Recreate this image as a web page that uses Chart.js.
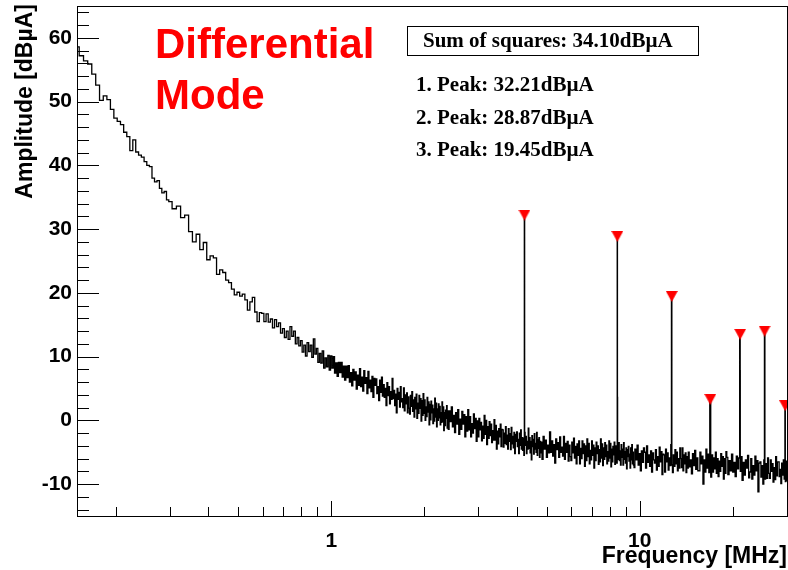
<!DOCTYPE html>
<html>
<head>
<meta charset="utf-8">
<script src="https://cdn.jsdelivr.net/npm/chart.js@4.4.1/dist/chart.umd.min.js"></script>
<style>
  html, body { margin: 0; padding: 0; background: #fff; }
  canvas { display: block; }
</style>
</head>
<body>
<canvas id="spectrumChart" width="788" height="570"></canvas>
<script>
// spectrum, frequency in MHz, amplitude in dBuA
const freqMHz = [
  0.150,0.155,0.160,0.165,0.170,0.175,0.180,0.185,0.190,0.195,
  0.200,0.205,0.210,0.215,0.220,0.225,0.230,0.235,0.240,0.245,
  0.250,0.255,0.260,0.265,0.270,0.275,0.280,0.285,0.290,0.295,
  0.30,0.31,0.32,0.33,0.34,0.35,0.36,0.37,0.38,0.39,
  0.40,0.41,0.42,0.43,0.44,0.45,0.46,0.47,0.48,0.49,
  0.50,0.51,0.52,0.53,0.54,0.55,0.56,0.57,0.58,0.59,
  0.60,0.61,0.62,0.63,0.64,0.65,0.66,0.67,0.68,0.69,
  0.70,0.71,0.72,0.73,0.74,0.75,0.76,0.77,0.78,0.79,
  0.80,0.81,0.82,0.83,0.84,0.85,0.86,0.87,0.88,0.89,
  0.90,0.91,0.92,0.93,0.94,0.95,0.96,0.97,0.98,0.99,
  1.00,1.01,1.02,1.03,1.04,1.05,1.06,1.07,1.08,1.09,
  1.10,1.11,1.12,1.13,1.14,1.15,1.16,1.17,1.18,1.19,
  1.20,1.21,1.22,1.23,1.24,1.25,1.26,1.27,1.28,1.29,
  1.30,1.31,1.32,1.33,1.34,1.35,1.36,1.37,1.38,1.39,
  1.40,1.41,1.42,1.43,1.44,1.45,1.46,1.47,1.48,1.49,
  1.50,1.51,1.52,1.53,1.54,1.55,1.56,1.57,1.58,1.59,
  1.60,1.61,1.62,1.63,1.64,1.65,1.66,1.67,1.68,1.69,
  1.70,1.71,1.72,1.73,1.74,1.75,1.76,1.77,1.78,1.79,
  1.80,1.81,1.82,1.83,1.84,1.85,1.86,1.87,1.88,1.89,
  1.90,1.91,1.92,1.93,1.94,1.95,1.96,1.97,1.98,1.99,
  2.00,2.01,2.02,2.03,2.04,2.05,2.06,2.07,2.08,2.09,
  2.10,2.11,2.12,2.13,2.14,2.15,2.16,2.17,2.18,2.19,
  2.20,2.21,2.22,2.23,2.24,2.25,2.26,2.27,2.28,2.29,
  2.30,2.31,2.32,2.33,2.34,2.35,2.36,2.37,2.38,2.39,
  2.40,2.42,2.44,2.46,2.48,2.50,2.52,2.54,2.56,2.58,
  2.60,2.62,2.64,2.66,2.68,2.70,2.72,2.74,2.76,2.78,
  2.80,2.82,2.84,2.86,2.88,2.90,2.92,2.94,2.96,2.98,
  3.00,3.02,3.04,3.06,3.08,3.10,3.12,3.14,3.16,3.18,
  3.20,3.22,3.24,3.26,3.28,3.30,3.32,3.34,3.36,3.38,
  3.40,3.42,3.44,3.46,3.48,3.50,3.52,3.54,3.56,3.58,
  3.60,3.62,3.64,3.66,3.68,3.70,3.72,3.74,3.76,3.78,
  3.80,3.82,3.84,3.86,3.88,3.90,3.92,3.94,3.96,3.98,
  4.00,4.02,4.04,4.06,4.08,4.10,4.12,4.14,4.16,4.18,
  4.20,4.22,4.23,4.24,4.26,4.28,4.30,4.32,4.34,4.36,4.38,
  4.40,4.42,4.44,4.46,4.48,4.50,4.52,4.54,4.56,4.58,
  4.60,4.62,4.64,4.66,4.68,4.70,4.72,4.74,4.76,4.78,
  4.80,4.84,4.88,4.92,4.96,5.00,5.04,5.08,5.12,5.16,
  5.20,5.24,5.28,5.32,5.36,5.40,5.44,5.48,5.52,5.56,
  5.60,5.64,5.68,5.72,5.76,5.80,5.84,5.88,5.92,5.96,
  6.00,6.04,6.08,6.12,6.16,6.20,6.24,6.28,6.32,6.36,
  6.40,6.44,6.48,6.52,6.56,6.60,6.64,6.68,6.72,6.76,
  6.80,6.84,6.88,6.92,6.96,7.00,7.04,7.08,7.12,7.16,
  7.20,7.24,7.28,7.32,7.36,7.40,7.44,7.48,7.52,7.56,
  7.60,7.64,7.68,7.72,7.76,7.80,7.84,7.88,7.92,7.96,
  8.00,8.04,8.08,8.12,8.16,8.20,8.24,8.28,8.32,8.36,
  8.40,8.44,8.46,8.47,8.48,8.52,8.56,8.60,8.64,8.68,8.72,8.76,
  8.80,8.84,8.88,8.92,8.96,9.00,9.04,9.08,9.12,9.16,
  9.20,9.24,9.28,9.32,9.36,9.40,9.44,9.48,9.52,9.56,
  9.60,9.68,9.76,9.84,9.92,10.00,10.08,10.16,10.24,10.32,
  10.40,10.48,10.56,10.64,10.72,10.80,10.88,10.96,11.04,11.12,
  11.20,11.28,11.36,11.44,11.52,11.60,11.68,11.76,11.84,11.92,
  12.00,12.08,12.16,12.24,12.32,12.40,12.48,12.56,12.64,12.69,12.72,
  12.80,12.88,12.96,13.04,13.12,13.20,13.28,13.36,13.44,13.52,
  13.60,13.68,13.76,13.84,13.92,14.00,14.08,14.16,14.24,14.32,
  14.40,14.52,14.64,14.76,14.88,15.00,15.12,15.24,15.36,15.48,
  15.60,15.72,15.84,15.96,16.08,16.20,16.32,16.44,16.56,16.68,
  16.80,16.92,17.04,17.16,17.28,17.40,17.52,17.64,17.76,17.88,
  18.00,18.12,18.24,18.36,18.48,18.60,18.72,18.84,18.96,19.08,
  19.20,19.38,19.56,19.74,19.92,20.10,20.28,20.46,20.64,20.82,
  21.00,21.15,21.16,21.18,21.36,21.54,21.72,21.90,22.08,22.26,22.44,22.62,
  22.80,22.98,23.16,23.34,23.52,23.70,23.88,24.06,24.24,24.42,
  24.60,24.78,24.96,25.14,25.32,25.38,25.50,25.68,25.86,26.04,26.22,
  26.40,26.58,26.76,26.94,27.12,27.30,27.48,27.66,27.84,28.02,
  28.20,28.38,28.56,28.74,28.92,29.10,29.28,29.46,29.61,29.64,29.82,30.00
];
const amplitudeDb = [
  58.6,57.2,56.4,55.9,54.3,52.6,50.2,50.9,50.3,48.8,
  47.4,46.9,46.4,45.2,44.5,42.3,44.0,42.1,41.6,41.3,
  40.6,40.0,39.8,38.0,37.4,37.6,36.4,35.7,35.9,34.6,
  34.3,33.2,33.6,31.8,32.2,29.6,28.0,29.2,26.8,27.9,
  25.2,25.8,25.5,22.9,23.6,23.2,22.0,21.6,20.6,19.7,
  20.1,19.5,19.8,18.9,17.3,18.6,19.3,17.0,15.5,16.9,
  16.8,15.5,16.7,15.4,15.9,14.5,15.8,14.7,15.3,13.7,
  14.4,13.0,14.0,12.7,14.7,13.2,14.0,12.0,13.0,11.7,
  12.5,10.7,11.8,10.1,12.2,10.8,11.8,9.9,12.8,10.4,
  11.3,9.1,10.5,9.0,10.9,8.2,9.8,8.4,10.2,7.9,
  10.1,8.2,10.0,7.4,9.0,6.9,9.1,7.5,9.1,6.8,
  8.5,6.3,8.5,6.7,8.6,6.0,7.5,5.4,8.0,6.3,
  7.6,4.9,7.1,5.5,8.1,5.3,6.8,4.6,7.8,5.8,
  6.7,4.2,7.7,5.1,6.3,4.5,6.9,3.6,6.6,5.5,
  6.5,4.2,5.3,3.1,6.3,4.4,6.8,3.8,5.6,3.6,
  5.0,2.3,5.9,3.9,5.3,2.6,4.5,3.3,6.6,3.4,
  4.7,2.3,4.1,1.2,5.0,3.3,4.4,2.1,5.3,2.9,
  3.4,2.0,5.1,1.5,4.0,2.6,4.3,1.2,3.7,1.9,
  1.0,3.9,2.2,4.5,1.4,3.2,0.5,3.6,1.8,4.1,
  0.3,2.7,1.1,3.9,1.9,3.4,-0.1,3.1,0.8,4.2,
  1.1,3.2,0.0,2.1,0.6,3.6,1.3,2.9,-0.7,2.5,
  0.1,3.0,1.2,2.4,-0.5,1.8,-0.1,3.5,0.5,2.7,
  -1.0,1.8,0.0,2.6,0.4,2.2,-0.7,1.2,-0.3,2.9,
  -0.2,2.1,-1.6,1.2,-0.8,1.6,0.3,2.3,-1.2,1.5,
  -1.4,1.5,-0.2,2.1,-1.0,0.8,-1.9,1.2,-0.6,1.7,
  -2.2,0.2,-1.4,1.4,-0.6,0.9,-2.6,0.6,-1.7,1.7,
  -1.5,0.6,-2.6,-0.5,-2.0,1.0,-1.3,0.3,-3.3,-0.1,
  -2.6,0.3,-1.5,-0.3,-3.2,-0.9,-2.8,0.8,-2.2,0.0,
  -3.8,-1.0,-2.8,-0.2,-2.4,-0.6,-3.5,-1.6,-3.1,0.1,
  -3.1,-0.8,-4.5,-1.7,-3.7,-1.3,-2.6,-0.6,-4.1,-1.4,
  -1.5,-4.2,-2.0,-3.6,-1.0,-3.8,-2.3,-4.5,-1.3,-3.3,
  -2.1,-4.6,-1.1,-3.7,-2.5,-4.3,-1.9,-5.2,-2.2,-3.3,
  -1.8,-4.1,-3.0,-5.2,-2.0,-3.9,-1.5,-4.5,-2.7,-4.7,
  -2.8,-5.5,32.21,-1.9,-3.9,-2.5,-5.2,-3.3,-4.5,-1.2,-4.4,
  -2.7,-5.1,-3.3,-6.2,-2.4,-4.1,-3.0,-5.3,-2.1,-4.5,
  -3.6,-5.0,-1.9,-5.5,-3.0,-4.4,-2.7,-5.8,-3.3,-5.1,
  -3.4,-6.1,-2.5,-4.5,-3.1,-5.8,-3.9,-5.1,-1.8,-5.0,
  -3.2,-5.6,-3.8,-6.7,-2.9,-4.6,-3.5,-5.8,-2.6,-5.0,
  -4.2,-5.6,-2.5,-6.1,-3.6,-5.0,-3.3,-6.4,-3.9,-5.7,
  -6.3,-3.4,-5.1,-2.8,-5.9,-4.1,-6.8,-3.7,-5.5,-3.2,
  -6.8,-4.4,-6.0,-3.2,-5.2,-3.7,-7.2,-4.0,-6.3,-2.9,
  -5.7,-3.6,-6.8,-4.7,-6.2,-3.2,-5.5,-3.9,-7.5,-4.3,
  -6.3,-3.4,-5.2,-4.0,-6.9,-4.6,-6.5,-2.9,-5.9,-3.7,
  -7.1,-4.3,-6.1,-3.5,-5.7,-3.9,-6.8,-4.9,-6.4,-3.2,
  -5.9,-3.6,-7.3,-4.5,-6.5,-4.1,-5.4,-3.4,-6.9,-4.2,
  -4.0,-6.7,28.87,3.6,-4.5,-6.1,-3.5,-6.3,-4.8,-7.0,-3.8,-5.8,
  -4.5,-7.0,-3.5,-6.1,-4.9,-6.7,-4.3,-7.6,-4.6,-5.7,
  -4.1,-6.4,-5.3,-7.5,-4.3,-6.2,-3.8,-6.8,-5.0,-7.0,
  -7.4,-4.5,-6.2,-3.9,-7.0,-5.2,-7.9,-4.8,-6.6,-4.3,
  -5.0,-7.5,-4.0,-6.6,-5.4,-7.2,-4.8,-8.1,-5.1,-6.2,
  -6.7,-4.6,-7.8,-5.7,-7.2,-4.2,-6.5,-4.9,-8.5,-5.3,
  -5.4,-8.1,-4.5,-6.5,-5.1,-7.8,-5.9,-7.1,-3.8,19.45,-7.0,
  -8.2,-5.4,-7.2,-4.6,-6.8,-5.0,-7.9,-6.0,-7.5,-4.3,
  -6.0,-7.4,-4.3,-7.9,-5.4,-6.8,-5.1,-8.2,-5.7,-7.5,
  -5.0,-7.3,-6.2,-8.4,-5.2,-7.1,-4.7,-7.7,-5.9,-7.9,
  -7.9,-5.0,-6.8,-5.6,-10.0,-6.2,-8.1,-4.5,-7.5,-5.3,
  -8.2,3.3,-8.9,-5.4,-8.1,-5.9,-7.6,-5.0,-8.3,-6.0,
  -8.8,-6.4,-8.0,-5.2,-7.2,-5.7,-9.2,-6.0,-8.3,-4.9,
  -5.8,-8.5,-6.3,-7.9,-5.3,-8.1,-6.6,-8.8,-5.6,-7.6,
  -5.9,13.5,7.8,-8.0,-5.7,-9.4,-6.6,-8.6,-6.2,-7.5,-5.5,-9.0,
  -8.1,-6.0,-9.2,-7.1,-8.6,-5.6,-7.9,-6.3,-11.2,-6.7,
  -6.5,-8.9,-7.1,-10.0,-6.2,14.0,-9.2,-6.8,-9.1,-5.9,-8.3,
  -9.1,-6.2,-8.0,-6.8,-9.7,-7.4,-9.3,-5.7,-8.7,-6.5,
  -6.5,-8.8,-7.7,-9.9,-6.7,-8.6,-6.2,-9.2,2.3,-9.6,-6.4,-9.5
];

// peaks found by the search (red markers)
const peakFreqMHz = [4.23, 8.46, 12.69, 16.92, 21.15, 25.38, 29.61];
const peakDb = [32.21, 28.87, 19.45, 3.3, 13.5, 14.0, 2.3];

// axis ticks
const yTickValues = [-10, 0, 10, 20, 30, 40, 50, 60];
const xTickValues = [1, 10];
const xTickLabels = ['1', '10'];
const xMinorTicks = [0.2, 0.3, 0.4, 0.5, 0.6, 0.7, 0.8, 0.9, 2, 3, 4, 5, 6, 7, 8, 9, 20, 30];

// texts
const titleLines = ['Differential', 'Mode'];
const sumLabel = 'Sum of squares: 34.10dBµA';
const peakLabels = ['1. Peak: 32.21dBµA', '2. Peak: 28.87dBµA', '3. Peak: 19.45dBµA'];
const xTitle = 'Frequency [MHz]';
const yTitle = 'Amplitude [dBµA]';

if (freqMHz.length !== amplitudeDb.length) {
    throw new Error('data length mismatch ' + freqMHz.length + ' vs ' + amplitudeDb.length);
}

const sans = '"Liberation Sans", Arial, sans-serif';
const serif = '"Liberation Serif", "Times New Roman", serif';

// red downward triangle, used as point style for the peaks
const marker = document.createElement('canvas');
marker.width = 12;
marker.height = 11;
const mctx = marker.getContext('2d');
mctx.fillStyle = '#ff0000';
mctx.beginPath();
mctx.moveTo(0, 0);
mctx.lineTo(12, 0);
mctx.lineTo(6, 11);
mctx.closePath();
mctx.fill();

// no extra room for the edge labels, the frame has to sit at fixed pixels
function noScalePadding(s) {
    s.paddingTop = 0;
    s.paddingBottom = 0;
    s.paddingLeft = 0;
    s.paddingRight = 0;
}

// ROOT style frame with inner ticks + text boxes
const rootFrame = {
    id: 'rootFrame',
    afterDatasetsDraw(chart) {
        const { ctx, chartArea: a, scales: { x, y } } = chart;
        ctx.save();
        ctx.strokeStyle = '#000';
        ctx.lineWidth = 1;
        ctx.strokeRect(a.left + 0.5, a.top + 0.5, a.right - a.left, a.bottom - a.top);

        ctx.beginPath();
        // y ticks every 2, long ones every 10
        for (let v = -14; v <= 64; v += 2) {
            const py = Math.round(y.getPixelForValue(v)) + 0.5;
            const len = v % 10 === 0 ? 22 : 12;
            ctx.moveTo(a.left, py);
            ctx.lineTo(a.left + len, py);
        }
        xMinorTicks.forEach((f) => {
            const px = Math.round(x.getPixelForValue(f)) + 0.5;
            ctx.moveTo(px, a.bottom + 0.5);
            ctx.lineTo(px, a.bottom - 9);
        });
        xTickValues.forEach((f) => {
            const px = Math.round(x.getPixelForValue(f)) + 0.5;
            ctx.moveTo(px, a.bottom + 0.5);
            ctx.lineTo(px, a.bottom - 15);
        });
        ctx.stroke();
        ctx.restore();
    },
    afterDraw(chart) {
        const ctx = chart.ctx;
        ctx.save();
        ctx.textAlign = 'left';
        ctx.textBaseline = 'alphabetic';

        ctx.fillStyle = '#ff0000';
        ctx.font = 'bold 42px ' + sans;
        ctx.fillText(titleLines[0], 155, 58);
        ctx.fillText(titleLines[1], 155, 109);

        ctx.fillStyle = '#000';
        ctx.strokeStyle = '#000';
        ctx.lineWidth = 1;
        ctx.strokeRect(407.5, 26.5, 291, 29);
        ctx.font = 'bold 21px ' + serif;
        ctx.fillText(sumLabel, 423, 47);
        peakLabels.forEach((t, i) => ctx.fillText(t, 416, 91 + i * 32.5));

        ctx.font = 'bold 23px ' + sans;
        ctx.textAlign = 'right';
        ctx.fillText(xTitle, 787, 563);

        ctx.translate(32, 4);
        ctx.rotate(-Math.PI / 2);
        ctx.fillText(yTitle, 0, 0);
        ctx.restore();
    }
};

new Chart(document.getElementById('spectrumChart'), {
    type: 'line',
    data: {
        datasets: [
            {
                label: 'peaks',
                data: peakFreqMHz.map((f, i) => ({ x: f, y: peakDb[i] })),
                showLine: false,
                pointStyle: marker,
                pointRadius: 6,
                clip: 0,
                order: 0
            },
            {
                label: 'spectrum',
                data: freqMHz.map((f, i) => ({ x: f, y: amplitudeDb[i] })),
                borderColor: '#000',
                borderWidth: 1.3,
                pointRadius: 0,
                stepped: 'middle',
                fill: false,
                clip: 0,
                order: 1
            }
        ]
    },
    options: {
        responsive: false,
        animation: false,
        devicePixelRatio: 1,
        layout: { autoPadding: false, padding: { top: 6, right: 1, left: 0, bottom: 0 } },
        plugins: {
            legend: { display: false },
            tooltip: { enabled: false }
        },
        scales: {
            x: {
                type: 'logarithmic',
                min: 0.15,
                max: 30,
                grid: { display: false, drawTicks: false },
                border: { display: false },
                afterBuildTicks: (s) => { s.ticks = xTickValues.map((v) => ({ value: v })); },
                afterFit: (s) => { s.height = 54; noScalePadding(s); },
                ticks: {
                    callback: (v, i) => xTickLabels[i],
                    autoSkip: false,
                    maxRotation: 0,
                    padding: 13,
                    color: '#000',
                    font: { family: sans, size: 21, weight: 'bold' }
                }
            },
            y: {
                min: -15,
                max: 65,
                grid: { display: false, drawTicks: false },
                border: { display: false },
                afterBuildTicks: (s) => { s.ticks = yTickValues.map((v) => ({ value: v })); },
                afterFit: (s) => { s.width = 77; noScalePadding(s); },
                ticks: {
                    autoSkip: false,
                    padding: 5,
                    color: '#000',
                    font: { family: sans, size: 21, weight: 'bold' }
                }
            }
        }
    },
    plugins: [rootFrame]
});
</script>
</body>
</html>
